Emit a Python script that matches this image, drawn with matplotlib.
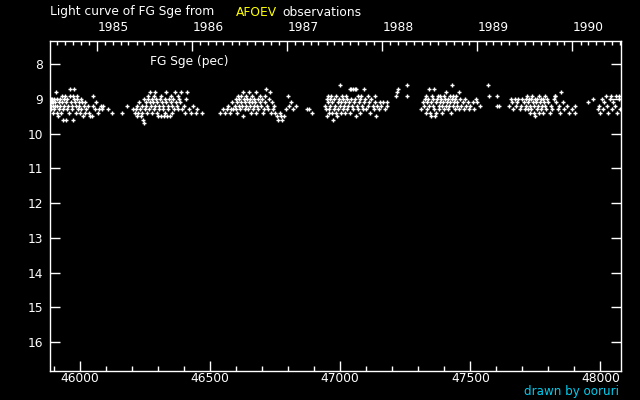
import numpy as np
import pandas as pd
import matplotlib
matplotlib.use("Agg")
import matplotlib.pyplot as plt

# ---------- Data: JD - 2400000 and visual magnitude, by observing season ----------
s1_jd = [45888, 45888, 45888, 45890, 45892, 45893, 45895, 45896, 45898, 45900, 45902, 45904,
         45906, 45908, 45910, 45912, 45913, 45915, 45918, 45920, 45922, 45925, 45928, 45930,
         45932, 45935, 45936, 45938, 45940, 45943, 45945, 45948, 45950, 45952, 45955, 45958,
         45960, 45962, 45965, 45968, 45970, 45973, 45975, 45977, 45979, 45980, 45983, 45985,
         45988, 45990, 45993, 45995, 45998, 46000, 46003, 46005, 46008, 46012, 46015, 46018,
         46020, 46025, 46030, 46035, 46040, 46045, 46050, 46052, 46058, 46062, 46068, 46075,
         46080, 46085, 46090, 46108, 46123, 46162, 46181]
s1_mag = [9.0, 9.1, 9.2, 9.3, 9.0, 9.1, 9.2, 9.4, 9.1, 9.0, 9.3, 9.2,
          9.1, 8.8, 9.4, 9.0, 9.2, 9.5, 9.1, 9.3, 9.0, 9.2, 9.4, 8.9,
          9.1, 9.6, 9.3, 9.0, 9.2, 8.9, 9.1, 9.6, 9.3, 9.0, 9.2, 9.4,
          8.9, 8.7, 9.1, 9.3, 9.2, 9.6, 8.9, 9.0, 8.7, 9.1, 9.4, 9.2,
          8.9, 9.0, 9.3, 9.1, 9.2, 9.4, 9.0, 9.3, 9.1, 9.5, 9.2, 9.4,
          9.1, 9.3, 9.2, 9.4, 9.5, 9.5, 8.9, 9.2, 9.3, 9.1, 9.4, 9.3,
          9.2, 9.3, 9.2, 9.3, 9.4, 9.4, 9.2]

s2_jd = [46203, 46210, 46215, 46218, 46220, 46225, 46228, 46232, 46235, 46238, 46240, 46243,
         46246, 46248, 46250, 46252, 46255, 46258, 46260, 46262, 46265, 46268, 46270, 46272,
         46275, 46278, 46280, 46283, 46285, 46288, 46290, 46292, 46295, 46298, 46300, 46302,
         46305, 46308, 46310, 46312, 46315, 46318, 46320, 46322, 46325, 46328, 46330, 46332,
         46335, 46338, 46340, 46343, 46345, 46348, 46350, 46352, 46355, 46358, 46360, 46365,
         46368, 46372, 46375, 46378, 46380, 46385, 46390, 46393, 46398, 46403, 46408, 46412,
         46420, 46428, 46435, 46445, 46450, 46470]
s2_mag = [9.3, 9.4, 9.3, 9.2, 9.5, 9.4, 9.1, 9.3, 9.5, 9.2, 9.4, 9.6,
          9.7, 9.0, 9.3, 9.1, 9.2, 9.4, 8.9, 9.0, 9.3, 9.1, 8.8, 9.2,
          9.4, 9.0, 9.1, 8.9, 9.3, 9.2, 8.8, 9.0, 9.4, 9.1, 9.5, 9.2,
          9.3, 9.0, 8.9, 9.5, 9.1, 9.3, 9.2, 9.5, 9.0, 9.4, 8.8, 9.1,
          9.5, 9.2, 9.3, 9.0, 9.5, 9.1, 8.9, 9.4, 9.2, 9.0, 9.3, 8.8,
          9.1, 9.2, 8.9, 9.3, 9.0, 9.1, 8.8, 9.3, 9.2, 9.4, 9.0, 8.8,
          9.3, 9.4, 9.2, 9.4, 9.3, 9.4]

s3_jd = [46539, 46550, 46558, 46565, 46570, 46575, 46580, 46585, 46590, 46595, 46598, 46600,
         46603, 46605, 46608, 46610, 46612, 46615, 46618, 46620, 46623, 46625, 46628, 46630,
         46633, 46635, 46638, 46640, 46643, 46645, 46648, 46650, 46652, 46655, 46658, 46660,
         46663, 46665, 46668, 46670, 46673, 46675, 46678, 46680, 46683, 46686, 46690, 46693,
         46696, 46700, 46703, 46706, 46710, 46713, 46716, 46720, 46723, 46726, 46730, 46733,
         46738, 46742, 46746, 46750, 46758, 46762, 46768, 46772, 46778, 46785, 46790, 46800,
         46805, 46812, 46820, 46830, 46873, 46880, 46893]
s3_mag = [9.4, 9.3, 9.4, 9.3, 9.2, 9.4, 9.3, 9.1, 9.3, 9.2, 9.0, 9.3,
          9.1, 9.4, 8.9, 9.2, 9.0, 9.3, 9.1, 8.9, 9.2, 9.5, 8.8, 9.0,
          9.3, 9.1, 9.2, 8.9, 9.0, 9.3, 9.1, 8.8, 9.2, 9.0, 9.4, 9.1,
          8.9, 9.3, 9.2, 9.0, 9.1, 8.8, 9.4, 9.2, 9.0, 9.3, 8.9, 9.1,
          9.2, 9.0, 9.4, 9.3, 8.9, 9.1, 8.7, 9.2, 9.3, 9.0, 8.8, 9.4,
          9.1, 9.3, 9.2, 9.4, 9.5, 9.6, 9.4, 9.5, 9.6, 9.5, 9.3, 8.9,
          9.2, 9.1, 9.3, 9.2, 9.3, 9.3, 9.4]

s4_jd = [46943, 46945, 46948, 46950, 46952, 46954, 46956, 46958, 46960, 46962, 46965, 46968,
         46970, 46973, 46975, 46978, 46980, 46983, 46985, 46988, 46990, 46993, 46995, 46999,
         47000, 47003, 47005, 47008, 47010, 47012, 47015, 47018, 47020, 47022, 47025, 47028,
         47030, 47033, 47036, 47038, 47040, 47043, 47045, 47048, 47050, 47052, 47055, 47058,
         47060, 47062, 47065, 47068, 47070, 47073, 47075, 47078, 47080, 47083, 47086, 47090,
         47093, 47096, 47100, 47105, 47108, 47112, 47115, 47120, 47125, 47128, 47132, 47135,
         47139, 47142, 47148, 47152, 47158, 47165, 47172, 47178, 47181,
         47215, 47219, 47223, 47257, 47257]
s4_mag = [9.2, 9.3, 9.0, 9.5, 9.1, 8.9, 9.3, 9.4, 9.0, 9.2, 8.9, 9.4,
          9.1, 9.6, 9.3, 9.0, 9.2, 9.4, 8.9, 9.5, 9.1, 9.3, 9.0, 8.6,
          9.2, 9.4, 9.1, 8.9, 9.3, 9.0, 9.2, 9.4, 9.1, 8.9, 9.3, 9.0,
          9.2, 9.1, 9.4, 8.7, 9.0, 8.7, 9.2, 8.7, 9.3, 9.1, 8.7, 9.0,
          8.7, 9.5, 9.2, 8.9, 9.3, 9.1, 9.4, 9.0, 8.9, 9.2, 9.3, 9.1,
          8.7, 9.0, 9.3, 9.2, 8.9, 9.1, 9.4, 9.0, 9.2, 9.3, 9.1, 8.9,
          9.5, 9.2, 9.3, 9.1, 9.2, 9.1, 9.3, 9.2, 9.1,
          8.9, 8.8, 8.7, 8.6, 8.9]

s5_jd = [47312, 47318, 47322, 47325, 47328, 47330, 47332, 47335, 47338, 47340, 47342, 47345,
         47348, 47350, 47352, 47355, 47358, 47360, 47362, 47365, 47368, 47370, 47372, 47375,
         47378, 47380, 47383, 47385, 47388, 47390, 47393, 47395, 47398, 47400, 47403, 47405,
         47408, 47410, 47413, 47415, 47418, 47420, 47423, 47425, 47428, 47430, 47432, 47435,
         47438, 47440, 47443, 47445, 47448, 47450, 47455, 47458, 47462, 47465, 47470, 47475,
         47480, 47485, 47490, 47495, 47500, 47510, 47515, 47520, 47527, 47539,
         47567, 47570, 47604, 47602, 47610]
s5_mag = [9.3, 9.1, 9.2, 9.0, 9.4, 8.9, 9.1, 9.3, 9.0, 8.7, 9.2, 9.4,
          9.1, 9.5, 8.9, 9.2, 9.0, 8.7, 9.3, 9.5, 9.1, 9.4, 9.0, 8.9,
          9.2, 9.3, 9.1, 8.9, 9.0, 9.4, 9.2, 9.1, 8.9, 9.3, 9.0, 9.2,
          8.8, 9.1, 9.3, 9.0, 9.2, 8.9, 9.1, 9.4, 9.0, 8.6, 9.2, 8.9,
          9.1, 9.3, 9.0, 8.9, 9.2, 9.1, 8.8, 9.3, 9.0, 9.2, 9.1, 9.3,
          9.0, 9.2, 9.1, 9.3, 9.2, 9.1, 9.3, 9.0, 9.1, 9.2,
          8.6, 8.9, 8.9, 9.2, 9.2]

s6_jd = [47650, 47655, 47660, 47665, 47670, 47675, 47680, 47685, 47690, 47695, 47700, 47705,
         47710, 47712, 47715, 47718, 47720, 47723, 47725, 47728, 47730, 47733, 47735, 47738,
         47740, 47743, 47745, 47748, 47750, 47753, 47755, 47758, 47760, 47763, 47765, 47768,
         47770, 47773, 47775, 47778, 47780, 47783, 47785, 47788, 47790, 47795, 47800, 47805,
         47810, 47815, 47820, 47824, 47827, 47830, 47835, 47840, 47845, 47850, 47855, 47860,
         47870, 47880, 47890, 47904, 47904]
s6_mag = [9.2, 9.0, 9.1, 9.3, 9.0, 9.2, 9.1, 9.0, 9.3, 9.2, 9.0, 9.1,
          9.3, 9.0, 9.2, 8.9, 9.1, 9.3, 9.0, 9.4, 9.2, 9.0, 9.3, 8.9,
          9.1, 9.4, 9.2, 9.0, 9.5, 9.1, 9.3, 9.0, 9.2, 8.9, 9.4, 9.1,
          9.0, 9.3, 9.2, 9.0, 9.4, 9.1, 8.9, 9.2, 9.3, 9.0, 9.1, 9.4,
          9.2, 9.3, 9.0, 8.9, 8.9, 9.1, 9.3, 9.2, 9.4, 8.8, 9.1, 9.3,
          9.2, 9.4, 9.3, 9.2, 9.4]

s7_jd = [47954, 47973, 47990, 47995, 48000, 48005, 48010, 48015, 48020, 48025, 48030, 48035,
         48040, 48045, 48050, 48055, 48060, 48065, 48070, 48072, 48075]
s7_mag = [9.1, 9.0, 9.3, 9.2, 9.4, 9.0, 9.3, 9.1, 8.9, 9.2, 9.4, 9.0,
          8.9, 9.3, 9.1, 9.2, 8.9, 9.4, 8.9, 9.0, 9.3]

years = [1985, 1986, 1987, 1988, 1989, 1990]
jd_ticks = [46000, 46500, 47000, 47500, 48000]
mag_ticks = [8, 9, 10, 11, 12, 13, 14, 15, 16]

jd = np.concatenate([s1_jd, s2_jd, s3_jd, s4_jd, s5_jd, s6_jd, s7_jd])
mag = np.concatenate([s1_mag, s2_mag, s3_mag, s4_mag, s5_mag, s6_mag, s7_mag])

JD_LIM = (45885, 48077)

# ---------- Figure ----------
FG = "white"
plt.rcParams["font.family"] = "DejaVu Sans"
plt.rcParams["font.size"] = 8.8

fig = plt.figure(figsize=(6.4, 4.0), dpi=100, facecolor="black")
ax = fig.add_axes([50 / 640, 1 - 370.5 / 400, 570.5 / 640, 329.8 / 400], facecolor="black")

ax.plot(jd, mag, "+", color=FG, ms=3.4, mew=1.0)

for sp in ax.spines.values():
    sp.set_color(FG)
    sp.set_linewidth(1.0)

ax.set_xticks(jd_ticks)
ax.set_xticks(np.arange(45900, 48077, 100), minor=True)
ax.set_yticks(mag_ticks)
ax.set_xlim(*JD_LIM)
ax.set_ylim(16.82, 7.32)
ax.tick_params(axis="x", which="major", direction="in", length=7.2, width=1,
               colors=FG, pad=0.8, top=False)
ax.tick_params(axis="x", which="minor", direction="in", length=3.6, width=1,
               colors=FG, top=False)
ax.tick_params(axis="y", which="major", direction="in", length=7, width=1,
               colors=FG, pad=5, left=True, right=True)
ax.tick_params(axis="y", which="minor", left=False, right=False)

# top axis: calendar years, monthly minor ticks
def to_jd(dates):
    return pd.DatetimeIndex(dates).to_julian_date() - 2400000.0

ax2 = ax.twiny()
year_jd = to_jd(pd.to_datetime([f"{y}-01-01" for y in years]))
month_jd = to_jd(pd.date_range("1984-08-01", "1990-07-01", freq="MS"))
ax2.set_xticks(year_jd)
ax2.set_xticklabels([str(y) for y in years], ha="left")
ax2.set_xticks(month_jd, minor=True)
ax2.set_xlim(*JD_LIM)
ax2.tick_params(axis="x", which="major", direction="in", length=7.5, width=1,
                colors=FG, pad=5)
ax2.tick_params(axis="x", which="minor", direction="in", length=3, width=1, colors=FG)
for sp in ax2.spines.values():
    sp.set_visible(False)

# ---------- Text ----------
fig.text(50 / 640, 1 - 12 / 400, "Light curve of FG Sge from", color=FG,
         ha="left", va="center")
fig.text(236 / 640, 1 - 12 / 400, "AFOEV", color="#ffff00", ha="left", va="center")
fig.text(282 / 640, 1 - 12 / 400, "observations", color=FG, ha="left", va="center")
fig.text(150 / 640, 1 - 62 / 400, "FG Sge (pec)", color=FG, ha="left", va="center")
fig.text(619 / 640, 1 - 392 / 400, "drawn by ooruri", color="#00ccee", fontsize=8.6,
         ha="right", va="center")

fig.savefig("out.png", dpi=100, facecolor="black")
